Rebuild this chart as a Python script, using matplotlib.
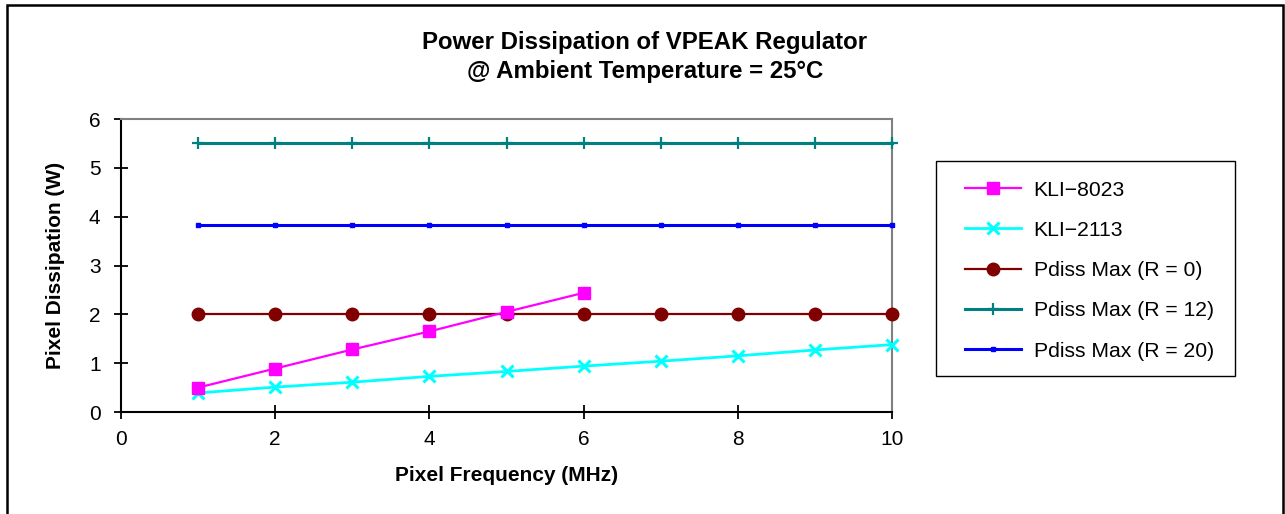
import matplotlib
matplotlib.use("Agg")
import matplotlib.pyplot as plt
from matplotlib.patches import Rectangle

plt.rcParams['font.family'] = ['Liberation Sans', 'DejaVu Sans']

freq = [1, 2, 3, 4, 5, 6, 7, 8, 9, 10]
kli8023_x = [1, 2, 3, 4, 5, 6]
kli8023 = [0.50, 0.89, 1.28, 1.65, 2.05, 2.44]
kli2113 = [0.39, 0.51, 0.61, 0.73, 0.83, 0.94, 1.04, 1.15, 1.27, 1.38]
pdiss_r0 = [2.01] * 10
pdiss_r12 = [5.51] * 10
pdiss_r20 = [3.83] * 10

labels = ["KLI\u22128023", "KLI\u22122113", "Pdiss Max (R = 0)",
          "Pdiss Max (R = 12)", "Pdiss Max (R = 20)"]
xticks = [0, 2, 4, 6, 8, 10]
yticks = [0, 1, 2, 3, 4, 5, 6]

W, H = 1285, 514
fig = plt.figure(figsize=(W / 100, H / 100), dpi=100)
ax = fig.add_axes([121 / W, 1 - 412 / H, (892 - 121) / W, (412 - 119) / H])

h1, = ax.plot(kli8023_x, kli8023, color='#FF00FF', lw=1.6, marker='s', ms=8.5,
              mec='#FF00FF', mfc='#FF00FF', clip_on=False, zorder=5)
h2, = ax.plot(freq, kli2113, color='#00FFFF', lw=2.0, marker='x', ms=9, mew=2.2,
              clip_on=False, zorder=4)
h3, = ax.plot(freq, pdiss_r0, color='#800000', lw=1.6, marker='o', ms=9,
              clip_on=False, zorder=3)
h4, = ax.plot(freq, pdiss_r12, color='#008080', lw=2.2, marker='+', ms=8, mew=1.6,
              clip_on=False, zorder=3)
h5, = ax.plot(freq, pdiss_r20, color='#0000FF', lw=2.2, marker='s', ms=3.5,
              clip_on=False, zorder=3)

ax.set_xlim(0, 10)
ax.set_ylim(0, 6)
ax.set_xticks(xticks)
ax.set_yticks(yticks)
ax.tick_params(direction='inout', length=9.5, width=1.3, labelsize=15, color='black')
ax.tick_params(axis='y', pad=10)
ax.tick_params(axis='x', pad=8)
for s in ['left', 'bottom']:
    ax.spines[s].set_color('black')
    ax.spines[s].set_linewidth(1.5)
for s in ['top', 'right']:
    ax.spines[s].set_color('#808080')
    ax.spines[s].set_linewidth(1.5)

ax.set_xlabel("Pixel Frequency (MHz)", fontsize=15, fontweight='bold', labelpad=12.5)
ax.set_ylabel("Pixel Dissipation (W)", fontsize=15, fontweight='bold', labelpad=17)

fig.text(645 / W, 1 - 42.5 / H, "Power Dissipation of VPEAK Regulator",
         ha='center', va='center', fontsize=17.3, fontweight='bold')
fig.text(645 / W, 1 - 71.5 / H, "@ Ambient Temperature = 25\u00b0C",
         ha='center', va='center', fontsize=17.3, fontweight='bold')

# legend box drawn separately, entries placed inside it
fig.patches.append(Rectangle((936 / W, 1 - 376 / H), (1235 - 936) / W, (376 - 161) / H,
                             transform=fig.transFigure, fill=False,
                             edgecolor='black', lw=1.0, zorder=1))
leg = fig.legend([h1, h2, h3, h4, h5], labels, loc='upper left',
                 bbox_to_anchor=(965 / W, 1 - 180.5 / H), bbox_transform=fig.transFigure,
                 fontsize=15.2, frameon=False,
                 borderpad=0, labelspacing=1.01, handlelength=2.65, handletextpad=0.6,
                 borderaxespad=0)

fig.patches.append(Rectangle((7 / W, -0.02), (1283 - 7) / W, 1 - 5 / H + 0.02,
                             transform=fig.transFigure, fill=False,
                             edgecolor='black', lw=1.8))

fig.savefig("out.png", dpi=100)
